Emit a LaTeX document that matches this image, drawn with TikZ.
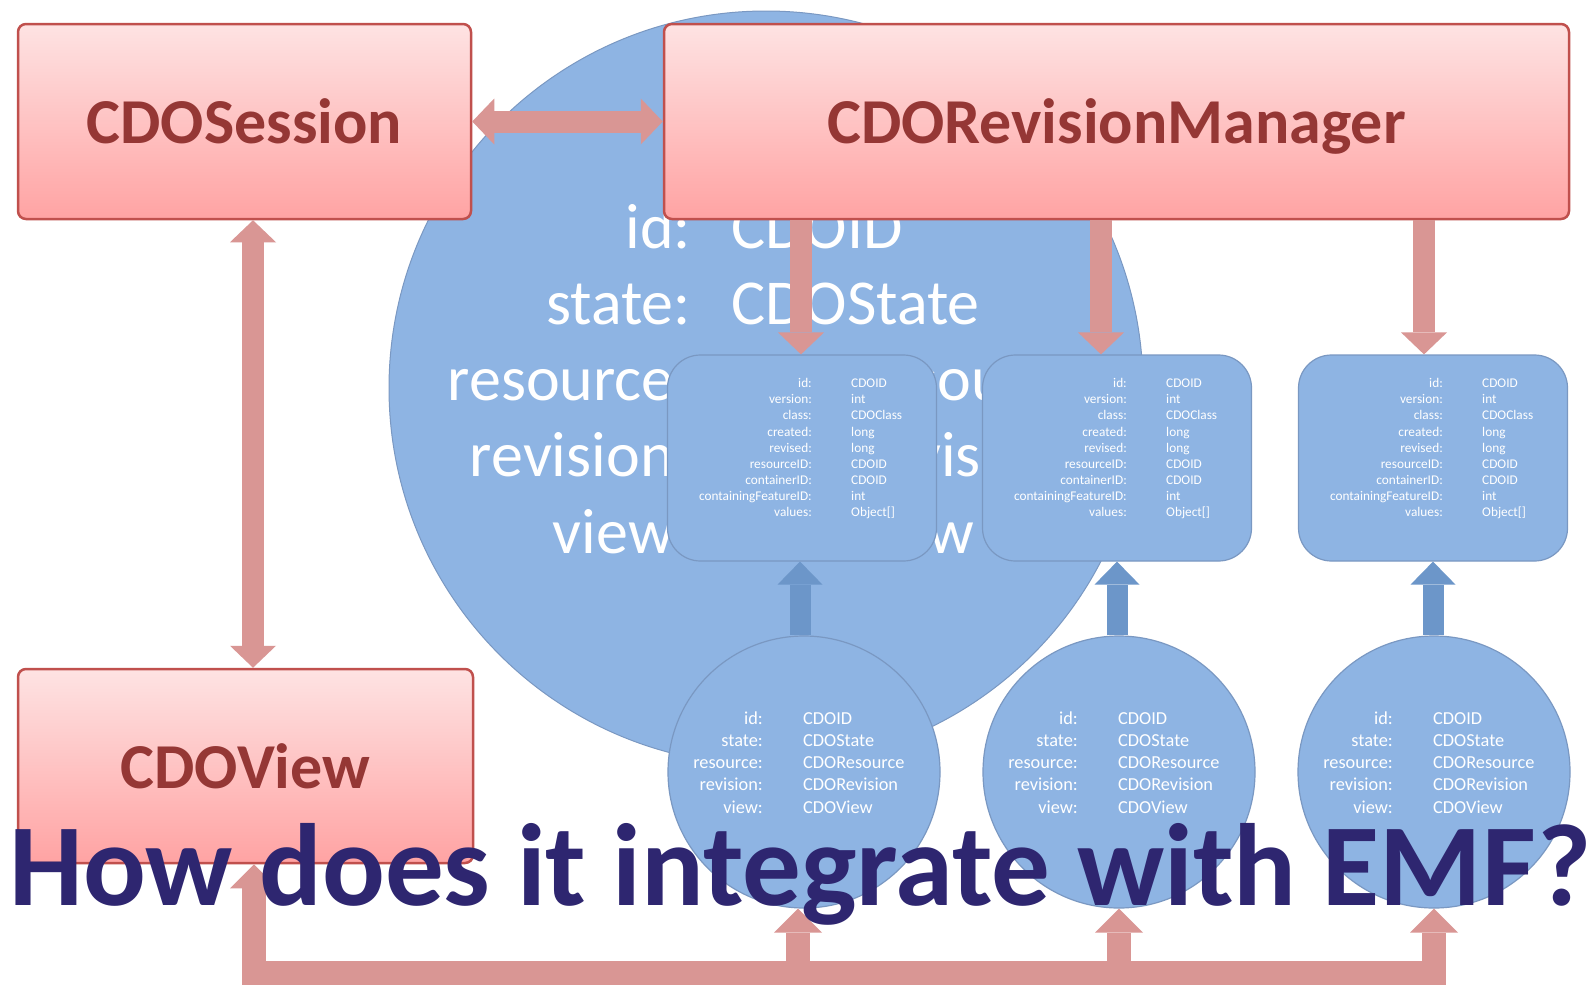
\documentclass[tikz,border=0pt]{standalone}
\usepackage{fontspec}
\setmainfont{Carlito}
\usetikzlibrary{arrows.meta,calc}
\definecolor{pinkarr}{RGB}{217,150,148}
\definecolor{bluearr}{RGB}{108,150,201}
\definecolor{cfill}{RGB}{142,180,227}
\definecolor{cedge}{RGB}{122,152,194}
\definecolor{redborder}{RGB}{192,80,77}
\definecolor{redtext}{RGB}{149,55,53}
\definecolor{boxtop}{RGB}{254,227,227}
\definecolor{boxbot}{RGB}{255,163,163}
\definecolor{navy}{RGB}{46,38,112}
\newcommand\myfs[2]{\fontsize{#1}{#2}\selectfont}
\tikzset{
  pinktip/.tip={Triangle[width=46pt,length=22pt,line width=0pt]},
  bottip/.tip={Triangle[width=48pt,length=24pt,line width=0pt]},
  bluetip/.tip={Triangle[width=45pt,length=23pt,line width=0pt]},
  redbox/.style={draw=redborder, line width=2.5pt, rounded corners=8pt,
    top color=boxtop, bottom color=boxbot, text=redtext,
    font=\bfseries\myfs{64}{64}, text depth=0pt, inner sep=0pt},
  bigcirc/.style={circle, fill=cfill, draw=cedge, line width=1pt, minimum size=754pt, inner sep=0pt},
  objcirc/.style={circle, fill=cfill, draw=cedge, line width=1.2pt, minimum size=272pt, inner sep=0pt},
  revbox/.style={rectangle, rounded corners=33pt, fill=cfill, draw=cedge, line width=1.2pt,
    minimum width=269pt, minimum height=206pt, inner sep=0pt},
  bigtxt/.style={text=white, font=\myfs{64}{64}, inner sep=0pt},
  revtxt/.style={text=white, font=\myfs{13.3}{14}, inner sep=0pt},
  objtxt/.style={text=white, font=\myfs{18.3}{19}, inner sep=0pt},
  pinkarrow/.style={draw=pinkarr, line width=22pt, line join=miter},
  botarrow/.style={draw=pinkarr, line width=24pt, line join=miter},
  bluearrow/.style={draw=bluearr, line width=21pt},
  titletxt/.style={text=navy, font=\bfseries\myfs{117}{117}, inner sep=0pt}
}
\newcommand\revbox[2]{%
  \node[revbox] (#1) at (#2,458) {};
  \foreach \lab/\val [count=\i from 0] in {id:/CDOID,version:/int,class:/CDOClass,created:/long,revised:/long,resourceID:/CDOID,containerID:/CDOID,containingFeatureID:/int,values:/{Object[]}} {
    \node[revtxt, anchor=base east] (#1-l\i) at (#2-134.5+144.5, 387.7+16.1*\i) {\lab};
    \node[revtxt, anchor=base west] (#1-v\i) at (#2-134.5+183.5, 387.7+16.1*\i) {\val};
  }
}
\newcommand\objcircle[2]{%
  \node[objcirc] (#1) at (#2,772) {};
  \foreach \lab/\val [count=\i from 0] in {id:/CDOID,state:/CDOState,resource:/CDOResource,revision:/CDORevision,view:/CDOView} {
    \node[objtxt, anchor=base east] (#1-l\i) at (#2-41, 724+22.3*\i) {\lab};
    \node[objtxt, anchor=base west] (#1-v\i) at (#2-1, 724+22.3*\i) {\val};
  }
}
\begin{document}
\begin{tikzpicture}[x=1pt,y=-1pt]
\useasboundingbox (0,0) rectangle (1594,985);
\fill[white] (0,0) rectangle (1594,985);

% big object circle
\node[bigcirc] (big) at (766,388) {};
\foreach \lab/\val [count=\i from 0] in {id:/CDOID,state:/CDOState,resource:/CDOResource,revision:/CDORevision,view:/CDOView} {
  \node[bigtxt, anchor=base east] (bl\i) at (691, 248+76.3*\i) {\lab};
  \node[bigtxt, anchor=base west] (bv\i) at (731, 248+76.3*\i) {\val};
}

% main boxes
\node[redbox, minimum width=453pt, minimum height=195pt] (sess) at (244.5,121.5) {CDOSession};
\node[redbox, minimum width=905pt, minimum height=195pt] (rm) at (1116.5,121.5) {CDORevisionManager};
\node[redbox, minimum width=455pt, minimum height=194pt] (view) at (245.5,766) {CDOView};

% revision boxes
\revbox{rb1}{802}
\revbox{rb2}{1117}
\revbox{rb3}{1433}

% pink connectors between main boxes
\draw[pinkarrow, pinktip-pinktip] (sess.east) -- (rm.west);
\coordinate (vs) at ([xshift=8.5pt]sess.south);
\draw[pinkarrow, pinktip-pinktip] (vs) -- (vs |- view.north);

% revision manager -> revisions
\coordinate (d1) at ([xshift=-1pt]rb1.north);
\coordinate (d2) at ([xshift=-16pt]rb2.north);
\coordinate (d3) at ([xshift=-9pt]rb3.north);
\draw[pinkarrow, -pinktip] (d1 |- rm.south) -- (d1);
\draw[pinkarrow, -pinktip] (d2 |- rm.south) -- (d2);
\draw[pinkarrow, -pinktip] (d3 |- rm.south) -- (d3);

% object circles
\objcircle{c1}{804}
\objcircle{c2}{1119}
\objcircle{c3}{1434}

% objects -> revisions
\coordinate (e1) at ([xshift=-2pt]rb1.south);
\draw[bluearrow, -bluetip] (e1 |- c1.north) -- (e1);
\draw[bluearrow, -bluetip] (rb2.south |- c2.north) -- (rb2.south);
\draw[bluearrow, -bluetip] (rb3.south |- c3.north) -- (rb3.south);

% view -> objects
\coordinate (bary) at (0,973);
\coordinate (vb) at ([xshift=8.5pt]view.south);
\coordinate (u1) at ([xshift=-6pt]c1.south);
\draw[botarrow, bottip-bottip] (vb) -- (vb |- bary) -- (c3.south |- bary) -- (c3.south);
\draw[botarrow, -bottip] (u1 |- bary) -- (u1);
\draw[botarrow, -bottip] (c2.south |- bary) -- (c2.south);

% title
\node[titletxt, anchor=base west] (title) at (9,905) {How does it integrate with EMF?};
\end{tikzpicture}
\end{document}
